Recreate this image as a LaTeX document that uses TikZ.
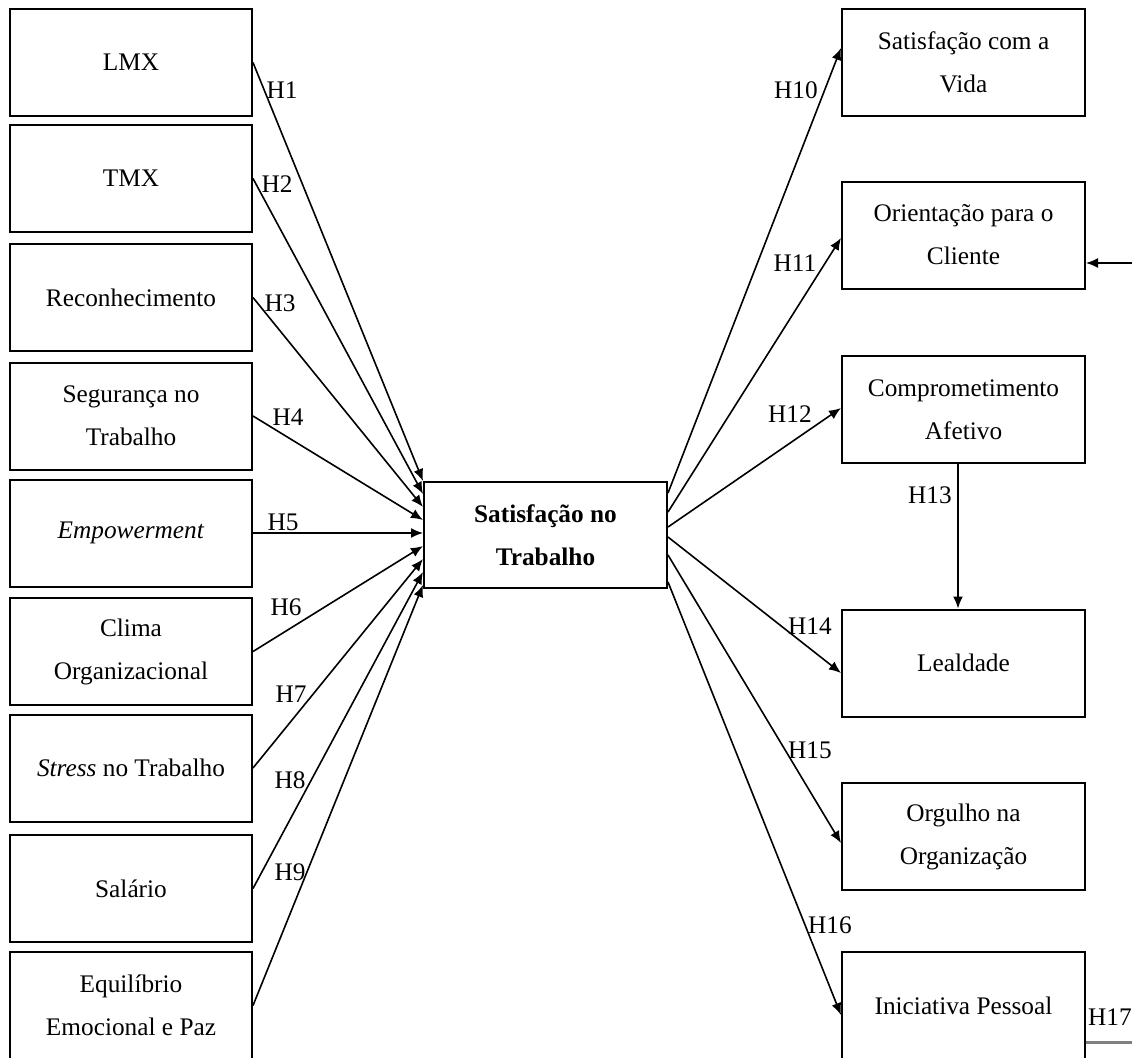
\documentclass[tikz,border=0pt]{standalone}
\usepackage{fontspec}
\setmainfont{Liberation Serif}
\usetikzlibrary{arrows.meta}

\begin{document}
\begin{tikzpicture}[
        x=0.5pt, y=-0.5pt,
        every node/.append style={font=\fontsize{12.65pt}{21.5pt}\selectfont},
        box/.style={draw, line width=1pt, minimum width=121pt, minimum height=53.5pt, align=center, inner sep=0pt},
        outbox/.style={box, minimum width=121.5pt},
        hyp/.style={inner sep=0pt},
        arr/.style={line width=0.8pt, -{Latex[length=6pt,width=5pt]}}
    ]
        \useasboundingbox (0,0) rectangle (1132,1057);
        % antecedentes
        \node[box] (LMX) at (131, 62.5)  {LMX};
        \node[box] (TMX) at (131, 178.5) {TMX};
        \node[box] (Rec) at (131, 297.5) {Reconhecimento};
        \node[box] (Seg) at (131, 416)   {Segurança no\\Trabalho};
        \node[box] (Emp) at (131, 533)   {\textit{Empowerment}};
        \node[box] (Cli) at (131, 651.5) {Clima\\Organizacional};
        \node[box] (Str) at (131, 768)   {\textit{Stress} no Trabalho};
        \node[box] (Sal) at (131, 888.5) {Salário};
        \node[box] (Equ) at (131, 1005.5) {Equilíbrio\\Emocional e Paz};
        % satisfacao
        \node[outbox, minimum height=53pt] (Sat) at (545.5, 535) {\textbf{Satisfação no}\\\textbf{Trabalho}};
        % consequentes
        \node[outbox] (Vida) at (963.5, 62.5)  {Satisfação com a\\Vida};
        \node[outbox] (Ori)  at (963.5, 235)   {Orientação para o\\Cliente};
        \node[outbox] (Com)  at (963.5, 409.5) {Comprometimento\\Afetivo};
        \node[outbox] (Lea)  at (963.5, 663)   {Lealdade};
        \node[outbox] (Org)  at (963.5, 836.5) {Orgulho na\\Organização};
        \node[outbox] (Ini)  at (963.5, 1005.5) {Iniciativa Pessoal};

        \coordinate (in) at (Sat.west |- Emp.east);
        \foreach \src [count=\i] in {LMX,TMX,Rec,Seg,Emp,Cli,Str,Sal,Equ}
            \draw[arr] (\src.east) -- ([yshift={(5-\i)*6.5pt}]in);
        \foreach \x/\y [count=\i] in {282/90, 277/184, 280/303, 288/417, 283/522, 286/607, 291/694, 290/780, 290/872}
            \node[hyp] (h\i) at (\x, \y) {H\i};

        \draw[arr] ([yshift=21pt]Sat.east)    -- ([yshift=7.25pt]Vida.west);
        \draw[arr] ([yshift=11.5pt]Sat.east)  -- ([yshift=-1.5pt]Ori.west);
        \draw[arr] ([yshift=4pt]Sat.east)     -- ([yshift=0.75pt]Com.west);
        \draw[arr] ([yshift=-1pt]Sat.east)    -- ([yshift=-5pt]Lea.west);
        \draw[arr] ([yshift=-10pt]Sat.east)   -- ([yshift=-3.25pt]Org.west);
        \draw[arr] ([yshift=-23.5pt]Sat.east) -- ([yshift=-4.75pt]Ini.west);
        \draw[arr] ([xshift=-2.75pt]Com.south) -- ([xshift=-2.75pt]Lea.north);

        \node[hyp] (h10) at (796, 90)  {H10};
        \node[hyp] (h11) at (795, 263) {H11};
        \node[hyp] (h12) at (790, 414) {H12};
        \node[hyp] (h13) at (930, 495) {H13};
        \node[hyp] (h14) at (810, 626) {H14};
        \node[hyp] (h15) at (810, 750) {H15};
        \node[hyp] (h16) at (830, 925) {H16};
        \node[hyp] (h17) at (1110, 1017) {H17};

        % setas soltas a direita
        \coordinate (ext) at (1132, 263);
        \draw[arr] (ext) -- (Ori.east |- ext);
        \coordinate (h17end) at (1132, 1042);
        \draw[line width=1.5pt, gray] (Ini.east |- h17end) -- (h17end);
    \end{tikzpicture}
\end{document}
